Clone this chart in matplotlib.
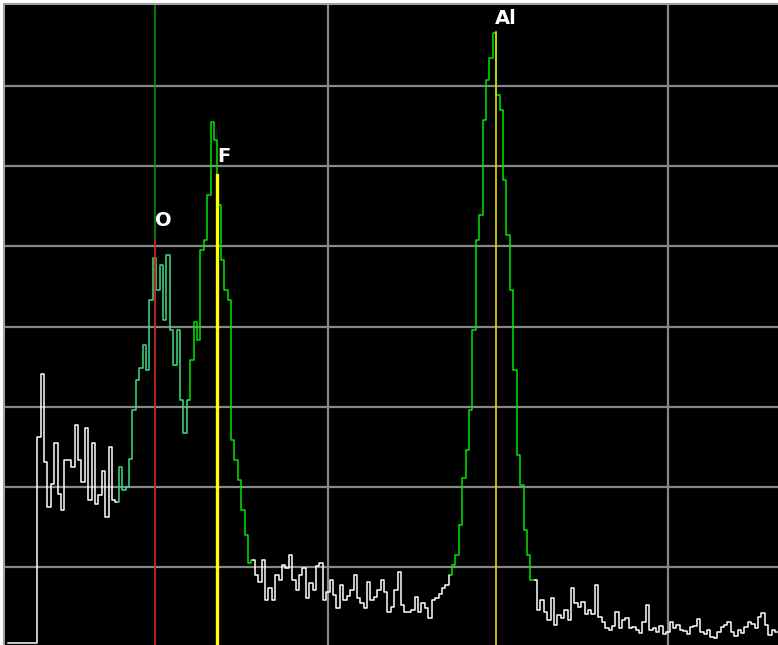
import numpy as np
import matplotlib
matplotlib.use("Agg")
import matplotlib.pyplot as plt

# channel energies (keV), 0.01 keV per channel
energy = np.round(np.arange(0.06, 2.325, 0.01), 2)
counts = [
    5, 5, 5, 5, 5, 5, 5, 5,
    5, 262, 341, 231, 175, 204,
    255, 191, 171, 233, 233, 225, 277, 233, 206, 273,
    183, 255, 178, 190, 220, 162, 250, 183, 181, 225,
    196, 200, 235, 296, 333, 348, 377, 346, 433, 485,
    446, 477, 408, 489, 396, 352, 396, 308, 267, 308,
    358, 406, 383, 495, 508, 564, 655, 633, 552, 483,
    446, 433, 258, 233, 208, 171, 140, 105, 109, 90,
    81, 109, 59, 74, 59, 90, 84, 102, 99, 115,
    84, 71, 90, 99, 61, 80, 71, 101, 105, 59,
    69, 84, 65, 49, 77, 59, 64, 71, 90, 61,
    55, 49, 81, 59, 62, 71, 84, 69, 44, 50,
    71, 94, 52, 44, 44, 46, 62, 44, 55, 49,
    36, 59, 61, 66, 74, 77, 90, 102, 115, 152,
    211, 246, 296, 396, 508, 539, 658, 708, 735, 766,
    689, 670, 583, 514, 446, 346, 240, 202, 146, 115,
    84, 84, 46, 59, 44, 34, 61, 27, 40, 36,
    46, 34, 74, 55, 50, 56, 41, 46, 41, 77,
    37, 31, 24, 21, 26, 44, 24, 34, 36, 24,
    25, 21, 17, 31, 52, 21, 24, 19, 26, 16,
    19, 31, 24, 27, 21, 20, 16, 25, 26, 35,
    19, 16, 21, 12, 11, 19, 25, 27, 31, 19,
    14, 21, 17, 25, 31, 29, 24, 37, 42, 27,
    15, 21, 19,
]

# highlighted regions of the spectrum (start keV, end keV, colour)
regions = [(0.06, 0.38, "white"), (0.38, 0.59, "#3ddc84"), (0.59, 0.78, "#00e600"),
           (0.78, 1.36, "white"), (1.36, 1.61, "#00e600"), (1.61, 2.32, "white")]

elements = ["O", "F", "Al"]
line_energy = [0.491, 0.673, 1.493]
marker_top = [508, 589, 768]
label_pos = [(0.515, 533), (0.694, 612), (1.524, 785)]

energy = np.array(energy)
counts = np.array(counts)

fig = plt.figure(figsize=(7.78, 6.45), dpi=100, facecolor="white")
ax = fig.add_axes([4 / 778, 0, 774 / 778, 641 / 645])
ax.set_facecolor("black")
ax.set_xlim(16 / 340, 790 / 340)
ax.set_ylim(2.5, 802.7)

for x in [1.0, 2.0]:
    ax.axvline(x, color="#888888", lw=1.6, zorder=1)
for y in range(100, 800, 100):
    ax.axhline(y, color="#888888", lw=1.6, zorder=1)

for e0, e1, c in regions:
    m = (energy >= e0 - 1e-6) & (energy <= e1 + 1e-6)
    ax.plot(energy[m], counts[m], drawstyle="steps-mid", color=c, lw=1.1, zorder=3)

# element marker lines
ax.plot([line_energy[0]] * 2, [marker_top[0], 810], color="#00a000", lw=1.1, zorder=2)
ax.plot([line_energy[0]] * 2, [0, marker_top[0]], color="#c8281a", lw=1.3, zorder=4)
ax.plot([line_energy[1]] * 2, [0, marker_top[1]], color="#ffff00", lw=2.4, zorder=4)
ax.plot([line_energy[2]] * 2, [0, marker_top[2]], color="#e8d800", lw=1.2, zorder=4)

for name, (x, y) in zip(elements, label_pos):
    ax.text(x, y, name, color="white", fontsize=14, fontweight="bold",
            ha="center", va="center", zorder=5)

ax.set_xticks([])
ax.set_yticks([])
for s in ["right", "bottom"]:
    ax.spines[s].set_visible(False)
for s in ["top", "left"]:
    ax.spines[s].set_color("#a0a0a0")
    ax.spines[s].set_linewidth(1.5)

fig.savefig("out.png", dpi=100, facecolor="white")
